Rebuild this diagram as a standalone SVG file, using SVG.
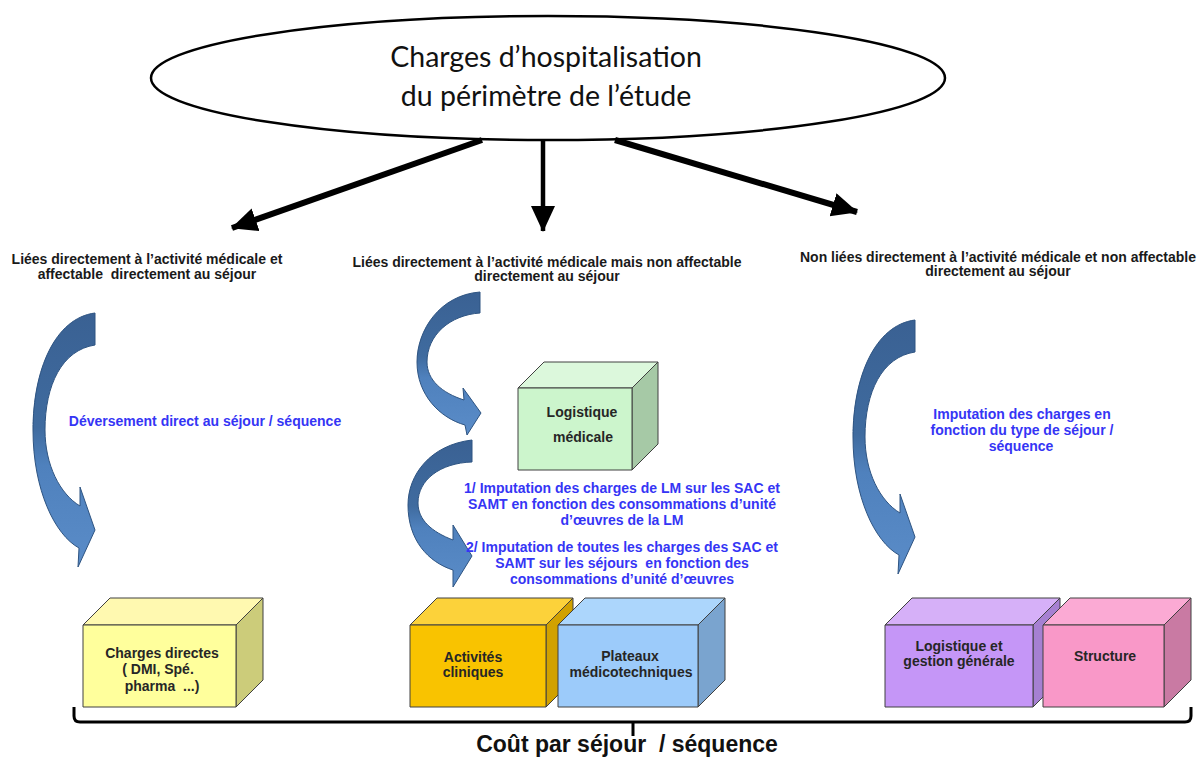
<svg xmlns="http://www.w3.org/2000/svg" width="1204" height="758" viewBox="0 0 1204 758">
  <style>
    .title { font-family: Lato, "Open Sans", sans-serif; font-size: 28.5px; fill: #111; text-anchor: middle; }
    .cat { font-family: "Liberation Sans", Arial, sans-serif; font-size: 14px; font-weight: bold; fill: #1a1a1a; text-anchor: middle; }
    .blue { font-family: "Liberation Sans", Arial, sans-serif; font-size: 14px; font-weight: bold; fill: #3535f5; text-anchor: middle; }
    .box { font-family: "Liberation Sans", Arial, sans-serif; font-size: 14px; font-weight: bold; fill: #262626; text-anchor: middle; }
    .foot { font-family: "Liberation Sans", Arial, sans-serif; font-size: 23px; font-weight: bold; fill: #111; text-anchor: middle; }
    .edge { stroke: #404040; stroke-width: 1; stroke-linejoin: round; }
    .curl { fill: url(#curlFill); stroke: #2e5482; stroke-width: 1; stroke-linejoin: round; }
    .link { stroke: #000; fill: none; }
  </style>
  <defs>
    <linearGradient id="curlFill" x1="0" y1="0" x2="0" y2="1">
      <stop offset="0" stop-color="#3a6193"/>
      <stop offset="0.45" stop-color="#3f6b9f"/>
      <stop offset="0.6" stop-color="#4f81bd"/>
      <stop offset="1" stop-color="#5a8cc8"/>
    </linearGradient>
    <marker id="head" markerUnits="userSpaceOnUse" markerWidth="30" markerHeight="26" refX="25" refY="12" orient="auto">
      <path d="M0,0 L26,12 L0,24 z" fill="#000"/>
    </marker>
  </defs>

  <!-- root ellipse -->
  <g id="root">
    <ellipse cx="548" cy="78" rx="397" ry="62" fill="#fff" stroke="#000" stroke-width="2.5"/>
    <text class="title" x="546" y="67">Charges d’hospitalisation</text>
    <text class="title" x="546" y="106">du périmètre de l’étude</text>
  </g>

  <!-- category headings -->
  <g id="cat-direct">
    <text class="cat" x="147" y="264">Liées directement à l’activité médicale et</text>
    <text class="cat" x="147" y="279" xml:space="preserve">affectable  directement au séjour</text>
  </g>
  <g id="cat-indirect">
    <text class="cat" x="547" y="267">Liées directement à l’activité médicale mais non affectable</text>
    <text class="cat" x="547" y="281">directement au séjour</text>
  </g>
  <g id="cat-none">
    <text class="cat" x="998" y="262">Non liées directement à l’activité médicale et non affectable</text>
    <text class="cat" x="998" y="276">directement au séjour</text>
  </g>

  <!-- connectors: root arrows, curved flow arrows, bracket -->
  <g id="connectors">
    <line class="link" x1="482" y1="140" x2="232" y2="228" stroke-width="6" marker-end="url(#head)"/>
    <line class="link" x1="543" y1="140" x2="543" y2="231" stroke-width="4.5" marker-end="url(#head)"/>
    <line class="link" x1="615" y1="140" x2="857" y2="212" stroke-width="6" marker-end="url(#head)"/>

    <path class="curl" d="M95,313 C55,318 33,370 33,430 C33,490 55,535 79,548 L78,567 L95,530 L80,487 L80,506 C60,494 45,465 45,430 C45,385 62,350 95,345 Z"/>
    <path class="curl" d="M480,292 C440,295 417,330 417,362 C417,395 440,418 465,425 L467,435 L481,413 L463,388 L464,400 C442,393 427,380 427,362 C427,335 450,315 480,313 Z"/>
    <path class="curl" d="M472,440 C430,445 408,475 408,505 C408,540 428,562 453,570 L453,587 L472,556 L453,525 L453,540 C432,532 418,520 418,503 C418,480 440,463 472,462 Z"/>
    <path class="curl" transform="translate(820,7)" d="M95,313 C55,318 33,370 33,430 C33,490 55,535 79,548 L78,567 L95,530 L80,487 L80,506 C60,494 45,465 45,430 C45,385 62,350 95,345 Z"/>

    <path class="link" stroke-width="3" d="M74,707 V716 Q74,722 80,722 H1185 Q1191,722 1191,716 V707 M633,722 V736"/>
  </g>

  <!-- flow labels -->
  <g id="label-direct">
    <text class="blue" x="205" y="426">Déversement direct au séjour / séquence</text>
  </g>
  <g id="label-lm">
    <text class="blue" x="622" y="493">1/ Imputation des charges de LM sur les SAC et</text>
    <text class="blue" x="622" y="509">SAMT en fonction des consommations d’unité</text>
    <text class="blue" x="622" y="525">d’œuvres de la LM</text>
    <text class="blue" x="622" y="552">2/ Imputation de toutes les charges des SAC et</text>
    <text class="blue" x="622" y="568" xml:space="preserve">SAMT sur les séjours  en fonction des</text>
    <text class="blue" x="622" y="584">consommations d’unité d’œuvres</text>
  </g>
  <g id="label-struct">
    <text class="blue" x="1022" y="419">Imputation des charges en</text>
    <text class="blue" x="1022" y="435">fonction du type de séjour /</text>
    <text class="blue" x="1021" y="451">séquence</text>
  </g>

  <!-- cube: logistique médicale -->
  <g id="logistique-medicale">
    <polygon class="edge" fill="#dcf8dc" points="518,388 544,362 658,362 632,388"/>
    <polygon class="edge" fill="#a6c9a6" points="632,388 658,362 658,444 632,470"/>
    <rect class="edge" x="518" y="388" width="114" height="82" fill="#ccf5cc"/>
    <text class="box" x="582" y="417">Logistique</text>
    <text class="box" x="583" y="442">médicale</text>
  </g>

  <!-- cube: charges directes -->
  <g id="charges-directes">
    <polygon class="edge" fill="#fff9b0" points="83,625 110,598 263,598 236,625"/>
    <polygon class="edge" fill="#cccc7a" points="236,625 263,598 263,680 236,707"/>
    <rect class="edge" x="83" y="625" width="153" height="82" fill="#ffff9c"/>
    <text class="box" x="162" y="658">Charges directes</text>
    <text class="box" x="158" y="674">( DMI, Spé.</text>
    <text class="box" x="162" y="691" xml:space="preserve">pharma  ...)</text>
  </g>

  <!-- cube: activités cliniques -->
  <g id="activites-cliniques">
    <polygon class="edge" fill="#fcd23a" points="410,625 437,598 573,598 546,625"/>
    <polygon class="edge" fill="#d1a100" points="546,625 573,598 573,680 546,707"/>
    <rect class="edge" x="410" y="625" width="136" height="82" fill="#f9c300"/>
    <text class="box" x="473" y="662">Activités</text>
    <text class="box" x="473" y="677">cliniques</text>
  </g>

  <!-- cube: plateaux médicotechniques -->
  <g id="plateaux">
    <polygon class="edge" fill="#acd6fc" points="558,625 585,598 725,598 698,625"/>
    <polygon class="edge" fill="#7aa4cf" points="698,625 725,598 725,680 698,707"/>
    <rect class="edge" x="558" y="625" width="140" height="82" fill="#9ccbfa"/>
    <text class="box" x="630" y="661">Plateaux</text>
    <text class="box" x="631" y="677">médicotechniques</text>
  </g>

  <!-- cube: logistique et gestion générale -->
  <g id="logistique-gestion">
    <polygon class="edge" fill="#d6b0f8" points="885,625 912,598 1060,598 1033,625"/>
    <polygon class="edge" fill="#a680d2" points="1033,625 1060,598 1060,680 1033,707"/>
    <rect class="edge" x="885" y="625" width="148" height="82" fill="#c596f7"/>
    <text class="box" x="959" y="651">Logistique et</text>
    <text class="box" x="959" y="666">gestion générale</text>
  </g>

  <!-- cube: structure -->
  <g id="structure">
    <polygon class="edge" fill="#fbaad4" points="1043,625 1070,598 1191,598 1164,625"/>
    <polygon class="edge" fill="#c97aa3" points="1164,625 1191,598 1191,680 1164,707"/>
    <rect class="edge" x="1043" y="625" width="121" height="82" fill="#f998c8"/>
    <text class="box" x="1105" y="661">Structure</text>
  </g>

  <g id="footer">
    <text class="foot" x="627" y="752" xml:space="preserve">Coût par séjour  / séquence</text>
  </g>
</svg>
